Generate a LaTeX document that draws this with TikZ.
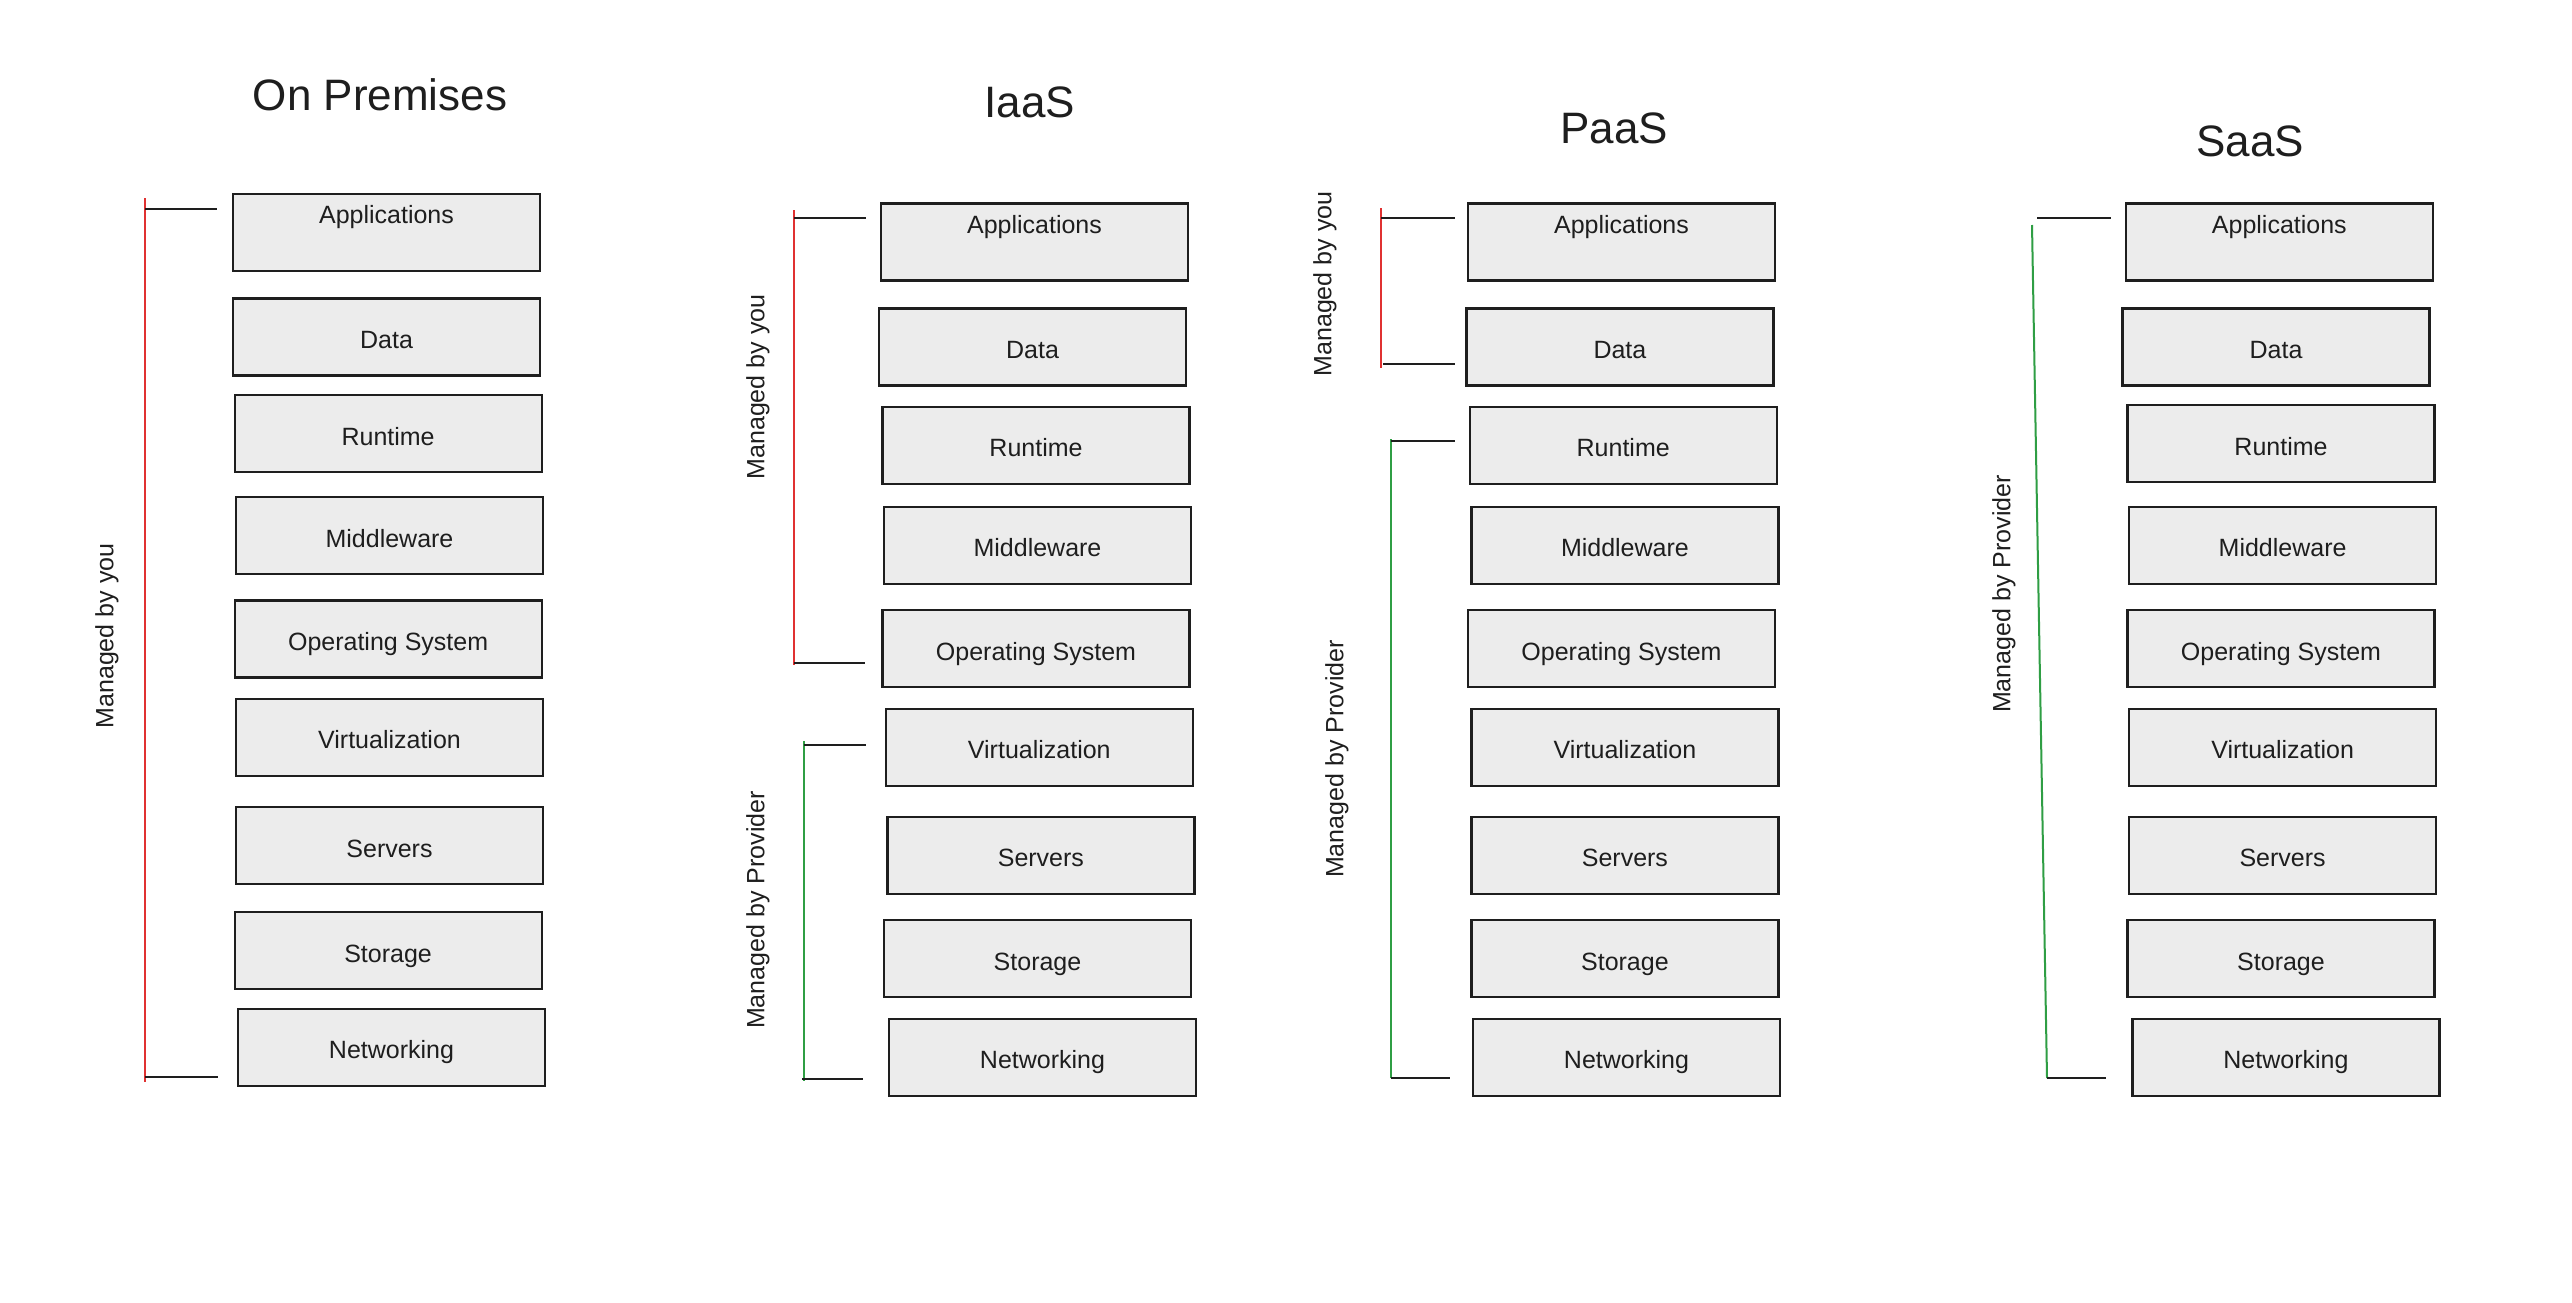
\documentclass[tikz,border=0pt]{standalone}
\usepackage{fontspec}
\setmainfont{Liberation Sans}
\definecolor{boxfill}{HTML}{ECECEC}
\definecolor{ink}{HTML}{1E1E1E}
\definecolor{youred}{HTML}{E03131}
\definecolor{provgreen}{HTML}{2F9E44}
\begin{document}
\begin{tikzpicture}[x=1pt,y=-1pt,
  box/.style={draw=ink, fill=boxfill, line width=2.2pt, minimum width=307pt, minimum height=77pt,
    inner sep=0pt, text height=50pt, text depth=27pt, text=ink, font=\fontsize{25}{30}\selectfont},
  topbox/.style={box, text height=30pt, text depth=47pt},
  titletext/.style={font=\fontsize{44}{52}\selectfont, text=ink},
  sidelabel/.style={rotate=90, font=\fontsize{25}{30}\selectfont, text=ink},
  youline/.style={draw=youred, line width=2pt},
  provline/.style={draw=provgreen, line width=2pt},
  tickline/.style={draw=ink, line width=2.4pt}]
\fill[white] (0,0) rectangle (2572,1302);
\useasboundingbox (0,0) rectangle (2572,1302);

% ---------- titles
\node[titletext] (t1) at (380,95) {On Premises};
\node[titletext] (t2) at (1030,102) {IaaS};
\node[titletext] (t3) at (1614,128) {PaaS};
\node[titletext] (t4) at (2250,141) {SaaS};

% ---------- column 1: On Premises
\node[topbox] (c1app) at (233+153.5,193.6+38.5) {Applications};
\foreach \nm/\tx/\lx/\ty in {data/Data/233/298.5, run/Runtime/234.6/395.3, mid/Middleware/236/497,
  os/Operating System/234.6/600.4, virt/Virtualization/236/698.8, srv/Servers/236/807,
  sto/Storage/234.6/912, net/Networking/238/1008.8}
  \node[box] (c1\nm) at (\lx+153.5,\ty+38.5) {\tx};

% ---------- column 2: IaaS
\node[topbox] (c2app) at (881+153.5,203.4+38.5) {Applications};
\foreach \nm/\tx/\lx/\ty in {data/Data/879/308.4, run/Runtime/882.5/406.8, mid/Middleware/884/506.9,
  os/Operating System/882.5/610.2, virt/Virtualization/885.8/708.6, srv/Servers/887.4/816.9,
  sto/Storage/884/920.2, net/Networking/889/1018.6}
  \node[box] (c2\nm) at (\lx+153.5,\ty+38.5) {\tx};

% ---------- column 3: PaaS
\node[topbox] (c3app) at (1468+153.5,203.4+38.5) {Applications};
\foreach \nm/\tx/\lx/\ty in {data/Data/1466.4/308.4, run/Runtime/1469.7/406.8, mid/Middleware/1471.4/506.9,
  os/Operating System/1468/610.2, virt/Virtualization/1471.4/708.6, srv/Servers/1471.4/816.9,
  sto/Storage/1471.4/920.2, net/Networking/1473/1018.6}
  \node[box] (c3\nm) at (\lx+153.5,\ty+38.5) {\tx};

% ---------- column 4: SaaS
\node[topbox] (c4app) at (2125.8+153.5,203.4+38.5) {Applications};
\foreach \nm/\tx/\lx/\ty in {data/Data/2122.5/308.4, run/Runtime/2127.5/405.2, mid/Middleware/2129.1/506.9,
  os/Operating System/2127.5/610.2, virt/Virtualization/2129.1/708.6, srv/Servers/2129.1/816.9,
  sto/Storage/2127.5/920.2, net/Networking/2132.4/1018.6}
  \node[box] (c4\nm) at (\lx+153.5,\ty+38.5) {\tx};

% ---------- brackets, column 1
\coordinate (b1a) at (145,198);  \coordinate (b1b) at (145,1082);
\coordinate (k1a) at (145,209);  \coordinate (k1b) at (217,209);
\coordinate (k1c) at (145,1077); \coordinate (k1d) at (218,1077);
\draw[youline] (b1a) -- (b1b);
\draw[tickline] (k1a) -- (k1b);
\draw[tickline] (k1c) -- (k1d);
\node[sidelabel] (l1) at (107,636) {Managed by you};

% ---------- brackets, column 2
\coordinate (b2a) at (794,210);  \coordinate (b2b) at (794,665);
\coordinate (k2a) at (794,218);  \coordinate (k2b) at (866,218);
\coordinate (k2c) at (794,663);  \coordinate (k2d) at (865,663);
\draw[youline] (b2a) -- (b2b);
\draw[tickline] (k2a) -- (k2b);
\draw[tickline] (k2c) -- (k2d);
\node[sidelabel] (l2a) at (758,387) {Managed by you};
\coordinate (g2a) at (804,741);  \coordinate (g2b) at (804,1081);
\coordinate (h2a) at (804,745);  \coordinate (h2b) at (866,745);
\coordinate (h2c) at (802,1079); \coordinate (h2d) at (863,1079);
\draw[provline] (g2a) -- (g2b);
\draw[tickline] (h2a) -- (h2b);
\draw[tickline] (h2c) -- (h2d);
\node[sidelabel] (l2b) at (758,910) {Managed by Provider};

% ---------- brackets, column 3
\coordinate (b3a) at (1381,208); \coordinate (b3b) at (1381,368);
\coordinate (k3a) at (1381,218); \coordinate (k3b) at (1455,218);
\coordinate (k3c) at (1383,364); \coordinate (k3d) at (1455,364);
\draw[youline] (b3a) -- (b3b);
\draw[tickline] (k3a) -- (k3b);
\draw[tickline] (k3c) -- (k3d);
\node[sidelabel] (l3a) at (1325,284) {Managed by you};
\coordinate (g3a) at (1391,439); \coordinate (g3b) at (1391,1078);
\coordinate (h3a) at (1391,441); \coordinate (h3b) at (1455,441);
\coordinate (h3c) at (1391,1078);\coordinate (h3d) at (1450,1078);
\draw[provline] (g3a) -- (g3b);
\draw[tickline] (h3a) -- (h3b);
\draw[tickline] (h3c) -- (h3d);
\node[sidelabel] (l3b) at (1337,759) {Managed by Provider};

% ---------- brackets, column 4
\coordinate (g4a) at (2032,225); \coordinate (g4b) at (2047,1078);
\coordinate (h4a) at (2037,218); \coordinate (h4b) at (2111,218);
\coordinate (h4c) at (2047,1078);\coordinate (h4d) at (2106,1078);
\draw[provline] (g4a) -- (g4b);
\draw[tickline] (h4a) -- (h4b);
\draw[tickline] (h4c) -- (h4d);
\node[sidelabel] (l4) at (2004,594) {Managed by Provider};
\end{tikzpicture}
\end{document}
